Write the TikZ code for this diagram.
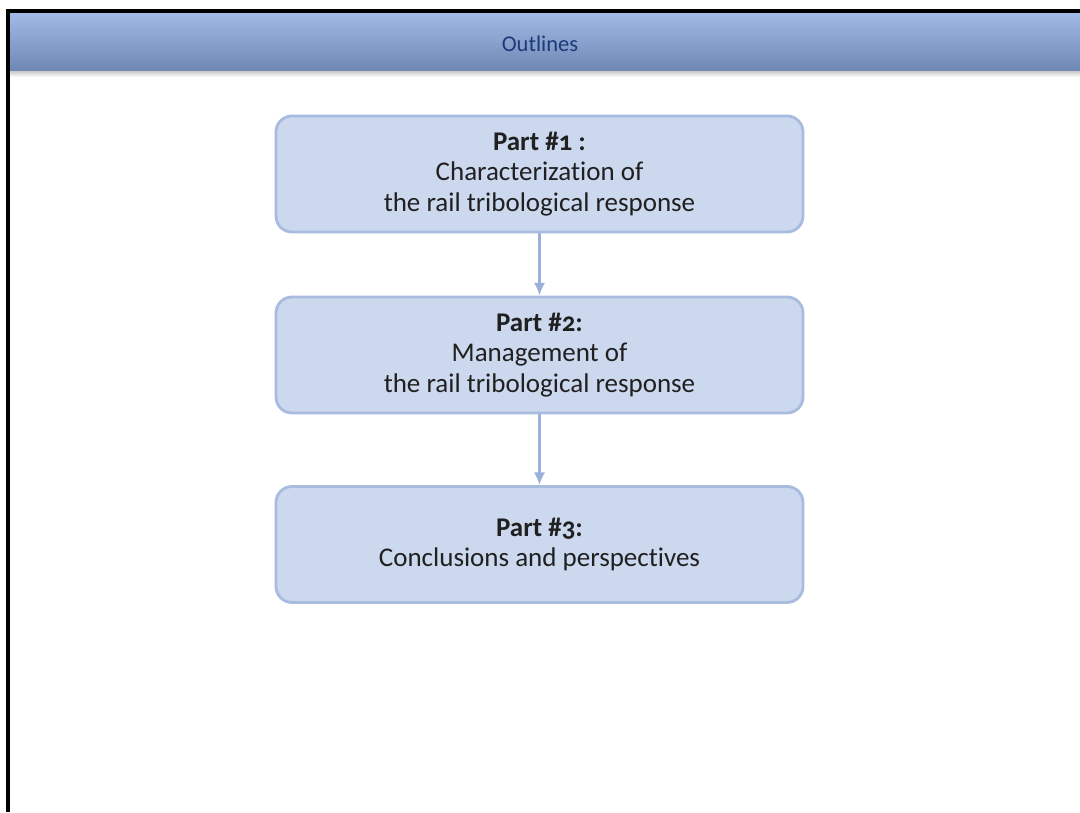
\documentclass[tikz,border=0pt]{standalone}
\usepackage{fontspec}
\setmainfont[Ligatures=NoCommon]{Carlito}
\usepackage{xcolor}
\usetikzlibrary{arrows.meta,calc}
\definecolor{figframe}{RGB}{0,0,0}
\definecolor{bandtop}{RGB}{162,186,230}
\definecolor{bandbot}{RGB}{110,134,178}
\definecolor{bandtext}{RGB}{28,58,122}
\definecolor{partfill}{RGB}{204,216,238}
\definecolor{partline}{RGB}{168,188,224}
\definecolor{partlink}{RGB}{156,176,218}
\definecolor{parttext}{RGB}{32,32,32}
\tikzset{
  frm/.style   ={draw=figframe, line width=2.2pt},
  partbox/.style ={draw=partline, fill=partfill, line width=2pt, rounded corners=0.4cm,
                   minimum width=13.175cm, minimum height=2.9cm, align=center,
                   text=parttext, font=\fontsize{19.2}{21.8}\selectfont, inner sep=0pt},
  bandlab/.style ={text=bandtext, font=\fontsize{16}{19}\selectfont, inner sep=1pt},
  link/.style  ={draw=partlink, line width=1.8pt, -{Latex[length=9pt,width=8pt]}},
}
\newcommand{\parthead}[1]{\textbf{\addfontfeatures{Numbers=OldStyle}#1}}

\begin{document}
\begin{tikzpicture}
  \useasboundingbox (0,0) rectangle (27,20.3);
  \fill[white] (0,0) rectangle (27,20.3);
  % header band
  \shade[top color=bandtop, bottom color=bandbot] (0.24,19.99) rectangle (27,18.5);
  \shade[top color=black!18, bottom color=white] (0.24,18.5) rectangle (27,18.38);
  \node[bandlab] (title) at (13.5,19.2) {Outlines};
  \draw[frm] (0.2,0) -- (0.2,20.025) -- (27,20.025);
  % the three parts
  \node[partbox] (part1) at (13.4875,15.95)
    {\parthead{Part \#1 :}\\Characterization of\\the rail tribological response};
  \node[partbox] (part2) at (13.4875,11.425)
    {\parthead{Part \#2:}\\Management of\\the rail tribological response};
  \node[partbox] (part3) at (13.4875,6.6875)
    {\parthead{Part \#3:}\\Conclusions and perspectives};
  \draw[link] (part1) -- (part2);
  \draw[link] (part2) -- (part3);
\end{tikzpicture}
\end{document}
